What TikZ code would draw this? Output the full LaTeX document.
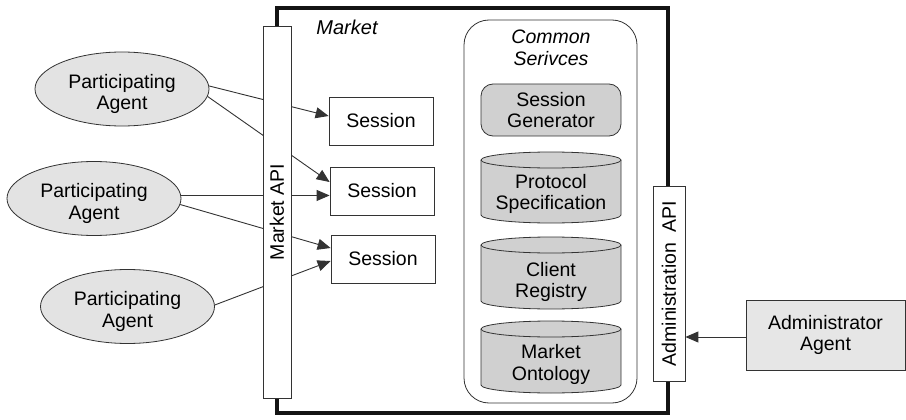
\documentclass[tikz,border=0pt]{standalone}
\usepackage{fontspec}
\setmainfont{Liberation Sans}
\usetikzlibrary{arrows.meta,shapes.geometric,calc}
\definecolor{linegray}{HTML}{333333}
\definecolor{agentfill}{HTML}{E3E3E3}
\definecolor{svcfill}{HTML}{D0D0D0}
\definecolor{adminfill}{HTML}{E6E6E6}
\begin{document}
\begin{tikzpicture}[x=1pt,y=1pt,
  font=\fontsize{19.5}{21.5}\selectfont,
  conn/.style={draw=linegray, line width=0.9pt},
  arr/.style={conn, -{Triangle[length=13pt,width=11pt]}},
  agent/.style={ellipse, draw=linegray, fill=agentfill, line width=0.8pt,
    minimum width=174pt, minimum height=74pt, inner sep=0pt, align=center},
  sessbox/.style={rectangle, draw=linegray, fill=white, line width=0.8pt,
    minimum width=104pt, minimum height=48pt, inner sep=0pt},
  apibar/.style={rectangle, draw=linegray, fill=white, line width=0.8pt,
    inner sep=0pt, rotate=90},
  svcbox/.style={rectangle, rounded corners=12pt, draw=linegray, fill=svcfill,
    line width=0.8pt, minimum width=140pt, minimum height=52pt, inner sep=0pt, align=center},
  svcshape/.style={draw=linegray, fill=svcfill, line width=0.8pt},
  svcline/.style={draw=linegray, line width=0.8pt},
  svctext/.style={align=center, inner sep=0pt},
  adminbox/.style={rectangle, draw=linegray, fill=adminfill, line width=0.8pt,
    minimum width=159pt, minimum height=70pt, inner sep=0pt, align=center}
]
\useasboundingbox (0,0) rectangle (906,-420);

% Market container
\node[draw=black!92, line width=3.5pt, minimum width=391pt, minimum height=405pt,
  inner sep=0pt] (market) at (472.5,-210.5) {};
\node[font=\itshape\fontsize{20}{24}\selectfont, inner sep=0pt] (mlabel) at (347,-27) {Market};

% Common services
\node[draw=linegray, line width=0.8pt, rounded corners=25pt, minimum width=173pt,
  minimum height=383pt, inner sep=0pt] (common) at (550.5,-211.5) {};
\node[svctext, font=\itshape\fontsize{19.5}{21.5}\selectfont] (ctitle) at (551,-48) {Common\\Serivces};

\node[svcbox] (sg) at (551,-110) {Session\\Generator};

\foreach \t/\b in {152/223, 237/309, 321/393}{
  \draw[svcshape] (481,-\t-8) -- (481,-\b+8)
     arc[start angle=180, end angle=360, x radius=70, y radius=8]
     -- (621,-\t-8)
     arc[start angle=0, end angle=180, x radius=70, y radius=8] -- cycle;
  \draw[svcline] (481,-\t-8) arc[start angle=180, end angle=360, x radius=70, y radius=8];
}
\node[svctext] (ps) at (551,-194) {Protocol\\Specification};
\node[svctext] (cr) at (551,-282) {Client\\Registry};
\node[svctext] (mo) at (551,-364.5) {Market\\Ontology};

% Agents
\node[agent] (a1) at (122,-89) {\rule{0pt}{24pt}Participating\\Agent};
\node[agent] (a2) at (94,-198.5) {\rule{0pt}{24pt}Participating\\Agent};
\node[agent] (a3) at (127.5,-306.5) {\rule{0pt}{24pt}Participating\\Agent};

% Sessions
\node[sessbox] (s1) at (381,-121) {Session};
\node[sessbox] (s2) at (382,-191) {Session};
\node[sessbox] (s3) at (383,-259) {Session};

% Connectors
\draw[arr] (a1.2) -- ($(s1.west)+(0,5)$);
\draw[arr] (a1.-5) -- ($(s2.west)+(0,9)$);
\draw[arr] (a2.2) -- (a2.2 -| s2.west);
\draw[arr] (a2.-4) -- ($(s3.west)+(0,11)$);
\draw[arr] (a3.1) -- ($(s3.west)+(0,-2)$);

% API bars
\node[apibar, minimum width=372pt, minimum height=28pt] (mapi) at (277,-212) {Market API};
\node[apibar, minimum width=195pt, minimum height=32pt] (aapi) at (669,-283.5) {Administration\ \ API};

% Administrator
\node[adminbox] (adm) at (825.5,-335) {Administrator\\Agent};
\draw[arr] ($(adm.west)+(0,-2)$) -- ($(adm.west -| aapi.south)+(0,-2)$);
\end{tikzpicture}
\end{document}
